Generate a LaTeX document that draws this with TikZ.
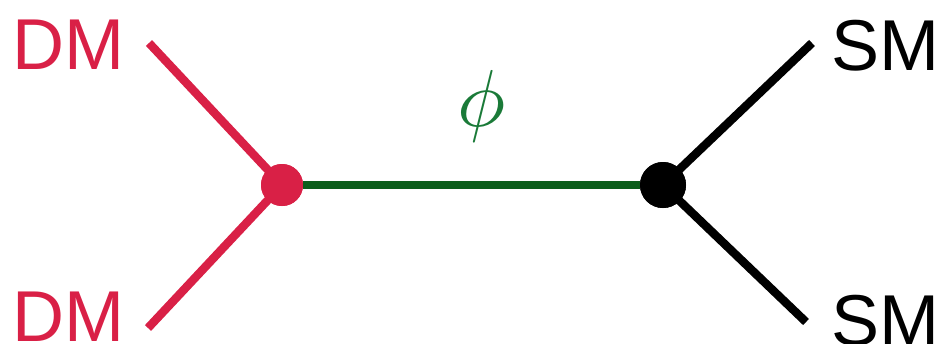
\documentclass[tikz,border=0pt]{standalone}
\usepackage{fontspec}
\setmainfont{Liberation Sans}
\usetikzlibrary{positioning}
\definecolor{dmred}{RGB}{217,32,70}
\definecolor{medgreen}{RGB}{11,94,27}
\definecolor{phigreen}{RGB}{26,122,56}
\tikzset{
  leg/.style={line width=4.8pt},
  vertex/.style={shape=circle,inner sep=0pt},
  lbl/.style={inner sep=0pt,font=\fontsize{41}{48}\selectfont}
}

\begin{document}
\begin{tikzpicture}[x=0.02cm,y=-0.02cm]
    \useasboundingbox (0,0) rectangle (942,343);

    \coordinate (dm1) at (149,43);
    \coordinate (dm2) at (148,328);
    \node[lbl,dmred,anchor=base east] (l1) at (125,69) {DM};
    \node[lbl,dmred,anchor=base east] (l2) at (125,341) {DM};

    \coordinate (sm1) at (812,43);
    \coordinate (sm2) at (806,322);
    \node[lbl,anchor=base west] (l3) at (831,70) {SM};
    \node[lbl,anchor=base west] (l4) at (831,345) {SM};

    \node[vertex,minimum size=0.84cm,fill=dmred] (a) at (282,185) {};
    \node[vertex,minimum size=0.92cm,fill=black] (b) at (663,185) {};
    \node[text=phigreen,inner sep=0pt] (phi) at (482,106) {\scalebox{4.6}{$\phi$}};

    \path [-,leg,dmred] (dm1) edge (a.center) (dm2) edge (a.center);
    \path [-,leg] (sm1) edge (b.center) (sm2) edge (b.center);
    \path [-,leg,medgreen] (a) edge (b);
    \node[vertex,minimum size=0.84cm,fill=dmred] at (a) {};
    \node[vertex,minimum size=0.92cm,fill=black] at (b) {};
\end{tikzpicture}
\end{document}
